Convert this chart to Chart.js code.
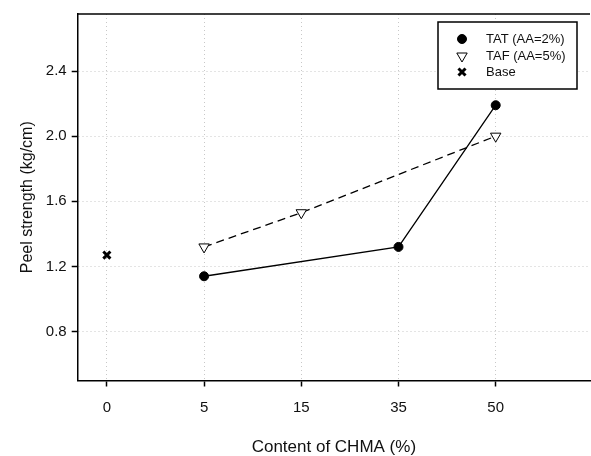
<!DOCTYPE html>
<html>
<head>
<meta charset="utf-8">
<script src="https://cdn.jsdelivr.net/npm/chart.js@4"></script>
<style>
html,body{margin:0;padding:0;background:#fff;overflow:hidden;width:591px;height:456px;}
canvas{display:block;}
</style>
</head>
<body>
<canvas id="c" width="598" height="456"></canvas>
<script>
// ---- data ----
const categories = ['0', '5', '15', '35', '50'];
const tatContent = ['5', '35', '50'];
const tatValues = [1.14, 1.32, 2.19];
const tafContent = ['5', '15', '50'];
const tafValues = [1.32, 1.53, 2.00];
const baseContent = ['0'];
const baseValues = [1.27];
const yTicks = [0.8, 1.2, 1.6, 2.0, 2.4];
const seriesNames = ['TAT (AA=2%)', 'TAF (AA=5%)', 'Base'];

const toPts = (cats, vals) => cats.map((c, i) => ({x: categories.indexOf(c), y: vals[i]}));

const FONT = 'Liberation Sans, Arial, sans-serif';

const frameAndLegend = {
  id: 'frameAndLegend',
  afterDraw(chart) {
    const {ctx, chartArea} = chart;
    ctx.save();
    ctx.strokeStyle = '#000';
    ctx.lineWidth = 1.5;
    ctx.beginPath();
    ctx.moveTo(chartArea.left, chartArea.top);
    ctx.lineTo(chartArea.right, chartArea.top);
    ctx.stroke();
    const bx = 438, by = 22, bw = 139, bh = 67;
    ctx.fillStyle = '#fff';
    ctx.fillRect(bx, by, bw, bh);
    ctx.strokeStyle = '#000';
    ctx.lineWidth = 1.5;
    ctx.strokeRect(bx, by, bw, bh);
    const rows = [39, 56, 72];
    chart.data.datasets.forEach((ds, i) => {
      const opts = {
        pointStyle: ds.pointStyle,
        radius: ds.pointRadius,
        rotation: ds.pointRotation || 0,
        borderWidth: ds.pointBorderWidth
      };
      ctx.fillStyle = ds.pointBackgroundColor;
      ctx.strokeStyle = ds.pointBorderColor;
      ctx.lineWidth = ds.pointBorderWidth;
      ctx.setLineDash([]);
      Chart.helpers.drawPoint(ctx, opts, 462, rows[i]);
      ctx.fillStyle = '#111';
      ctx.font = '13px ' + FONT;
      ctx.textBaseline = 'middle';
      ctx.textAlign = 'left';
      ctx.fillText(seriesNames[i], 486, rows[i]);
    });
    ctx.restore();
  }
};

new Chart(document.getElementById('c'), {
  type: 'scatter',
  data: {
    datasets: [
      {
        label: seriesNames[0],
        data: toPts(tatContent, tatValues),
        showLine: true,
        borderColor: '#000',
        borderWidth: 1.3,
        pointStyle: 'circle',
        pointRadius: 4.5,
        pointBackgroundColor: '#000',
        pointBorderColor: '#000',
        pointBorderWidth: 1
      },
      {
        label: seriesNames[1],
        data: toPts(tafContent, tafValues),
        showLine: true,
        borderColor: '#000',
        borderWidth: 1.3,
        borderDash: [8, 5],
        pointStyle: 'triangle',
        pointRotation: 180,
        pointRadius: 6,
        pointBackgroundColor: '#fff',
        pointBorderColor: '#000',
        pointBorderWidth: 1
      },
      {
        label: seriesNames[2],
        data: toPts(baseContent, baseValues),
        showLine: false,
        pointStyle: 'crossRot',
        pointRadius: 5,
        pointBackgroundColor: '#000',
        pointBorderColor: '#000',
        pointBorderWidth: 3
      }
    ]
  },
  options: {
    responsive: false,
    animation: false,
    layout: {padding: {top: 10, right: 0, left: 0, bottom: 0}},
    plugins: {legend: {display: false}, tooltip: {enabled: false}},
    elements: {line: {tension: 0}},
    scales: {
      x: {
        type: 'linear',
        min: -0.3,
        max: 4.97,
        afterBuildTicks: s => { s.ticks = categories.map((c, i) => ({value: i})); },
        afterFit: s => { s.height = 75.5; },
        ticks: {
          callback: v => categories[v],
          color: '#111',
          font: {size: 15, family: FONT},
          padding: 12,
          maxRotation: 0,
          autoSkip: false
        },
        grid: {
          color: '#c8c8c8',
          lineWidth: 1,
          tickLength: 6,
          tickColor: '#000',
          tickWidth: 1.5,
          tickBorderDash: []
        },
        border: {display: true, color: '#000', width: 1.5, dash: [1, 3]},
        title: {
          display: true,
          text: 'Content of CHMA (%)',
          color: '#111',
          font: {size: 17, family: FONT, lineHeight: 1.0},
          padding: {top: 0, bottom: 0}
        }
      },
      y: {
        type: 'linear',
        min: 0.5,
        max: 2.75,
        afterBuildTicks: s => { s.ticks = yTicks.map(v => ({value: v})); },
        afterFit: s => { s.width = 77.7; },
        ticks: {
          callback: v => v.toFixed(1),
          color: '#111',
          font: {size: 15, family: FONT},
          padding: 5
        },
        grid: {
          color: '#c8c8c8',
          lineWidth: 1,
          tickLength: 6,
          tickColor: '#000',
          tickWidth: 1.5,
          tickBorderDash: []
        },
        border: {display: true, color: '#000', width: 1.5, dash: [1, 3]},
        title: {
          display: true,
          text: 'Peel strength (kg/cm)',
          color: '#111',
          font: {size: 16, family: FONT},
          padding: {top: 18, bottom: 0}
        }
      }
    }
  },
  plugins: [frameAndLegend]
});
</script>
</body>
</html>
